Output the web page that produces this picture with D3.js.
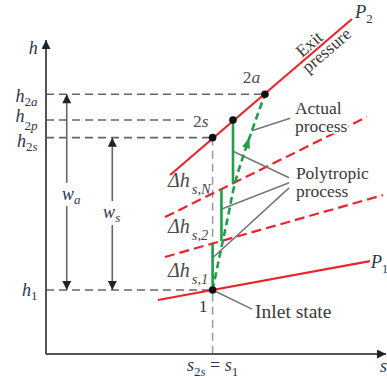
<!DOCTYPE html>
<html>
<head>
<meta charset="utf-8">
<script src="https://cdn.jsdelivr.net/npm/d3@7"></script>
<style>
  body { margin: 0; background: #fff; }
  svg { display: block; }
  text { font-family: "Liberation Serif", "Times New Roman", serif; }
</style>
</head>
<body>
<svg id="chart" width="387" height="379"></svg>
<script>
// h-s diagram, values in diagram units (s: 0..10, h: 0..10)

// constant pressure lines, two points each [s, h]
const isoP1 = [[3.29, 1.72], [9.53, 2.96]];
const isoMid1 = [[3.5, 3.09], [9.91, 5.06]];
const isoMid2 = [[3.5, 4.36], [9.44, 7.55]];
const isoP2 = [[3.65, 5.70], [9.0, 10.67]];

// state points
const stateNames = ['1', '2s', '2p', '2a'];
const stateS = [4.9, 4.9, 5.5, 6.44];
const stateH = [2.04, 6.89, 7.45, 8.27];

// enthalpy levels on the h axis
const levelSub = ['2a', '2p', '2s', '1'];
const levelH = [8.27, 7.45, 6.89, 2.04];
const levelEndS = [6.44, 4.2, 4.9, 4.9];

// polytropic staircase: entropy of each isentropic step
const stairS = [4.9, 5.16, 5.5];
const stairSub = ['s,1', 's,2', 's,N'];
const stairLabelH = [2.45, 3.85, 5.32];

// actual process curve 1 -> 2a
const actualS = [4.9, 5.07, 5.35, 5.56, 5.94, 6.44];
const actualH = [2.04, 2.93, 4.36, 5.45, 6.75, 8.27];

// work arrows w_a, w_s
const workSub = ['a', 's'];
const workS = [0.61, 1.95];
const workTopH = [8.27, 6.89];
const workGapTop = [5.45, 4.87];
const workGapBot = [4.71, 4.11];
const workLabelS = [0.47, 1.68];
const workLabelH = [4.90, 4.33];

// leader lines [s, h] -> [s, h]
const leaderFrom = [[6.05, 7.11], [5.5, 6.46], [5.17, 4.62], [4.93, 3.09], [4.9, 2.04]];
const leaderTo = [[7.18, 7.51], [7.15, 5.61], [7.15, 5.45], [7.15, 5.29], [6.06, 1.43]];

const svg = d3.select('#chart');
const x = d3.scaleLinear().domain([0, 10]).range([46, 386]);
const y = d3.scaleLinear().domain([0, 10]).range([354, 40]);
const line = d3.line().x(d => x(d[0])).y(d => y(d[1]));

const RED = '#e8252c';
const GREEN = '#1f9f4a';
const GRAY = '#666';
const INK = '#2c3650';
const TXT = '#3a3a3a';

const hAt = (iso, s) => {
    const [a, b] = iso;
    return a[1] + (s - a[0]) * (b[1] - a[1]) / (b[0] - a[0]);
};

// arrowhead marker
const defs = svg.append('defs');
defs.append('marker')
    .attr('id', 'tip')
    .attr('viewBox', '0 0 10 10')
    .attr('refX', 10)
    .attr('refY', 5)
    .attr('markerUnits', 'userSpaceOnUse')
    .attr('markerWidth', 10)
    .attr('markerHeight', 9)
    .attr('orient', 'auto')
    .append('path')
    .attr('d', 'M0,0 L10,5 L0,10 Z')
    .attr('fill', '#222');

// text helper, pieces = [{t, i, size, dy, dx}]
const label = (s, h, pieces, size, anchor, color, oy) => {
    const t = svg.append('text')
        .attr('x', x(s))
        .attr('y', y(h) + (oy || 0))
        .attr('font-size', size)
        .attr('text-anchor', anchor || 'start')
        .attr('fill', color || INK);
    pieces.forEach(p => {
        const sp = t.append('tspan').text(p.t);
        if (p.i) sp.attr('font-style', 'italic');
        if (p.size) sp.attr('font-size', p.size);
        if (p.dy) sp.attr('dy', p.dy);
        if (p.dx) sp.attr('dx', p.dx);
    });
    return t;
};

// enthalpy dashed levels
svg.append('g').selectAll('line')
    .data(levelH)
    .enter()
    .append('line')
    .attr('x1', x(0))
    .attr('x2', (d, i) => x(levelEndS[i]))
    .attr('y1', d => y(d))
    .attr('y2', d => y(d))
    .attr('stroke', GRAY)
    .attr('stroke-width', 1.6)
    .attr('stroke-dasharray', '8,5');

// vertical dashed at s1
svg.append('line')
    .attr('x1', x(stateS[0])).attr('x2', x(stateS[0]))
    .attr('y1', y(stateH[1])).attr('y2', y(0))
    .attr('stroke', '#999')
    .attr('stroke-width', 1.5)
    .attr('stroke-dasharray', '8,5');

// axes
svg.append('line')
    .attr('x1', x(0)).attr('y1', y(0))
    .attr('x2', x(0)).attr('y2', y(10))
    .attr('stroke', '#555').attr('stroke-width', 2)
    .attr('marker-end', 'url(#tip)');
svg.append('line')
    .attr('x1', x(0)).attr('y1', y(0))
    .attr('x2', x(10)).attr('y2', y(0))
    .attr('stroke', '#555').attr('stroke-width', 2)
    .attr('marker-end', 'url(#tip)');

// work arrows
workS.forEach((s, i) => {
    svg.append('line')
        .attr('x1', x(s)).attr('x2', x(s))
        .attr('y1', y(workGapTop[i])).attr('y2', y(workTopH[i]))
        .attr('stroke', GRAY).attr('stroke-width', 1.6)
        .attr('marker-end', 'url(#tip)');
    svg.append('line')
        .attr('x1', x(s)).attr('x2', x(s))
        .attr('y1', y(workGapBot[i])).attr('y2', y(stateH[0]))
        .attr('stroke', GRAY).attr('stroke-width', 1.6)
        .attr('marker-end', 'url(#tip)');
    label(workLabelS[i], workLabelH[i], [
        { t: 'w', i: 1 },
        { t: workSub[i], i: 1, size: 13, dy: 4 }
    ], 18);
});

// isobars
[isoP1, isoMid1, isoMid2, isoP2].forEach((iso, i) => {
    svg.append('path')
        .attr('d', line(iso))
        .attr('fill', 'none')
        .attr('stroke', RED)
        .attr('stroke-width', 2.2)
        .attr('stroke-dasharray', i === 1 || i === 2 ? '10,5' : null);
});

// leader lines
svg.append('g').selectAll('line')
    .data(leaderFrom)
    .enter()
    .append('line')
    .attr('x1', d => x(d[0]))
    .attr('y1', d => y(d[1]))
    .attr('x2', (d, i) => x(leaderTo[i][0]))
    .attr('y2', (d, i) => y(leaderTo[i][1]))
    .attr('stroke', '#777')
    .attr('stroke-width', 1.6);

// polytropic staircase
const isoList = [isoP1, isoMid1, isoMid2, isoP2];
stairS.forEach((s, i) => {
    svg.append('line')
        .attr('x1', x(s)).attr('x2', x(s))
        .attr('y1', y(i === 0 ? stateH[0] : hAt(isoList[i], s)))
        .attr('y2', y(hAt(isoList[i + 1], s)))
        .attr('stroke', GREEN)
        .attr('stroke-width', 2.6);
});

// actual process curve
const actualPts = actualS.map((s, i) => [s, actualH[i]]);
svg.append('path')
    .attr('d', line.curve(d3.curveCatmullRom)(actualPts))
    .attr('fill', 'none')
    .attr('stroke', GREEN)
    .attr('stroke-width', 2.6)
    .attr('stroke-dasharray', '7,4');
line.curve(d3.curveLinear);

// arrowhead on the actual process
{
    const p = actualPts[4], a = actualPts[3], b = actualPts[5];
    const ang = Math.atan2(y(b[1]) - y(a[1]), x(b[0]) - x(a[0])) * 180 / Math.PI;
    svg.append('path')
        .attr('d', 'M5,0 L-6,-4 L-6,4 Z')
        .attr('fill', GREEN)
        .attr('transform', `translate(${x(p[0])},${y(p[1])}) rotate(${ang})`);
}

// state points
svg.append('g').selectAll('circle')
    .data(stateS)
    .enter()
    .append('circle')
    .attr('cx', d => x(d))
    .attr('cy', (d, i) => y(stateH[i]))
    .attr('r', 3.8)
    .attr('fill', '#111');

// labels on h axis
const levelDy = [8, 2, 9, 6];
const levelSubDy = [3.5, 8, 4, 4];
levelSub.forEach((sub, i) => {
    const pieces = [{ t: 'h', i: 1 }];
    if (sub === '1') {
        pieces.push({ t: '1', size: 13, dy: levelSubDy[i] });
    } else {
        pieces.push({ t: sub[0], size: 13, dy: levelSubDy[i] });
        pieces.push({ t: sub[1], i: 1, size: 13 });
    }
    label(-0.25, levelH[i], pieces, 18, 'end', INK, levelDy[i]);
});

label(-0.24, 9.55, [{ t: 'h', i: 1 }], 18, 'end');
label(9.82, -0.57, [{ t: 's', i: 1 }], 18);
label(stateS[0], -0.55, [
    { t: 's', i: 1 },
    { t: '2', size: 13, dy: 5 },
    { t: 's', i: 1, size: 13 },
    { t: ' = ', dy: -5 },
    { t: 's', i: 1 },
    { t: '1', size: 13, dy: 5 }
], 18, 'middle');

// state labels
label(4.75, 1.35, [{ t: '1' }], 17.5, 'end');
label(4.32, 7.24, [{ t: '2' }, { t: 's', i: 1 }], 17.5, 'start', '#4a4f60');
label(5.79, 8.63, [{ t: '2' }, { t: 'a', i: 1 }], 17.5, 'start', '#4a4f60');
label(9.09, 10.70, [{ t: 'P', i: 1 }, { t: '2', size: 13, dy: 5 }], 18.5);
label(9.55, 2.74, [{ t: 'P', i: 1 }, { t: '1', size: 12, dy: 5 }], 18.5);

// delta h labels
stairSub.forEach((sub, i) => {
    label(3.59, stairLabelH[i], [
        { t: 'Δh', i: 1 },
        { t: sub, i: 1, size: 14.5, dy: 7, dx: 2 }
    ], 20, 'start', '#4a4a4a');
});

// annotations with white halo, one text element per note
const note = (s, h, lines, size, lead) => {
    const t = svg.append('text')
        .attr('x', x(s))
        .attr('y', y(h))
        .attr('font-size', size)
        .attr('fill', TXT)
        .attr('stroke', '#fff')
        .attr('stroke-width', 4)
        .attr('paint-order', 'stroke');
    lines.forEach((str, i) => {
        t.append('tspan')
            .attr('x', x(s))
            .attr('dy', i === 0 ? 0 : lead)
            .text(str);
    });
    return t;
};

note(7.32, 7.64, ['Actual', 'process'], 17.5, 18);
note(7.35, 5.57, ['Polytropic', 'process'], 17.5, 18);
note(6.15, 1.15, ['Inlet state'], 19.5, 0);

// exit pressure text along P2
{
    const sx = 7.91;
    const ang = Math.atan2(y(isoP2[1][1]) - y(isoP2[0][1]), x(isoP2[1][0]) - x(isoP2[0][0])) * 180 / Math.PI;
    const g = svg.append('g')
        .attr('transform', `translate(${x(sx)},${y(hAt(isoP2, sx))}) rotate(${ang})`);
    g.append('text')
        .attr('x', 0).attr('y', -3)
        .attr('text-anchor', 'middle')
        .attr('font-size', 17.5)
        .attr('fill', TXT)
        .text('Exit');
    g.append('text')
        .attr('x', 9).attr('y', 13)
        .attr('text-anchor', 'middle')
        .attr('font-size', 17.5)
        .attr('fill', TXT)
        .text('pressure');
}
</script>
</body>
</html>
